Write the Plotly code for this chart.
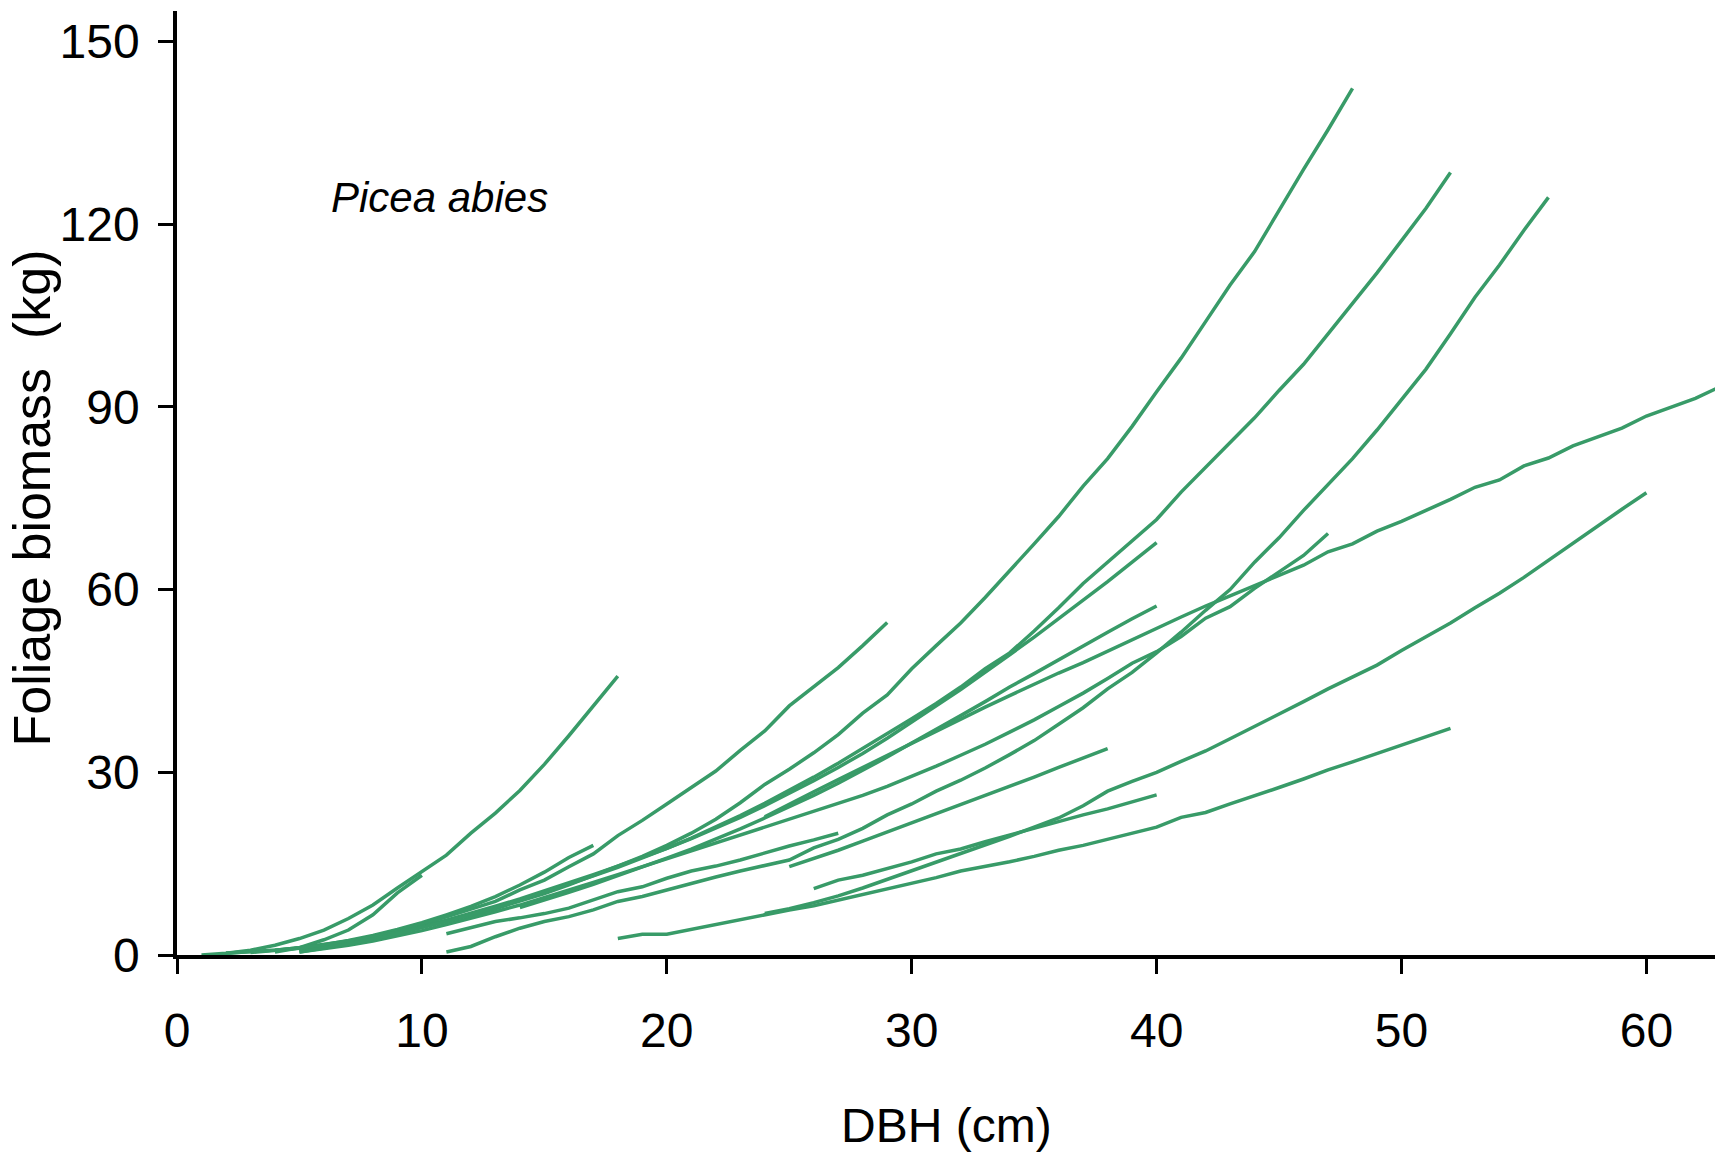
import plotly.graph_objects as go

# ---- data: foliage biomass (kg) by DBH (cm), one list per tree curve ----
dbh_c01 = list(range(1, 19))
kg_c01 = [0, 0.3, 0.8, 1.6, 2.7, 4.1, 6.0, 8.2, 11.0, 13.7, 16.4, 20.0, 23.3, 27.0, 31.3, 36.0, 41.0, 45.8]

dbh_c02 = list(range(4, 11))
kg_c02 = [0.5, 1.2, 2.5, 4.1, 6.6, 10.2, 13.1]

dbh_c03 = list(range(2, 18))
kg_c03 = [0.3, 0.5, 0.8, 1.2, 1.7, 2.4, 3.2, 4.2, 5.3, 6.6, 8.0, 9.6, 11.5, 13.6, 16.0, 18.0]

dbh_c04 = list(range(2, 30))
kg_c04 = [0.3, 0.5, 0.8, 1.2, 1.7, 2.3, 3.0, 3.9, 5.0, 6.3, 7.6, 8.8, 10.7, 12.3, 14.5, 16.6,
          19.6, 22.1, 24.8, 27.5, 30.2, 33.6, 36.8, 40.9, 44.0, 47.2, 50.8, 54.6]

dbh_c05 = list(range(11, 28))
kg_c05 = [3.5, 4.5, 5.5, 6.1, 6.8, 7.7, 9.0, 10.4, 11.2, 12.6, 13.8, 14.6, 15.6, 16.8, 17.9, 18.9, 20.0]

dbh_c06 = list(range(25, 39))
kg_c06 = [14.5, 15.8, 17.2, 18.7, 20.2, 21.7, 23.2, 24.6, 26.1, 27.6, 29.2, 30.8, 32.3, 33.9]

dbh_c07 = list(range(26, 41))
kg_c07 = [10.9, 12.3, 13.1, 14.2, 15.3, 16.6, 17.4, 18.6, 19.7, 20.8, 22.0, 23.0, 24.0, 25.1, 26.3]

dbh_c08 = list(range(5, 41))
kg_c08 = [0.6, 1.2, 1.9, 2.8, 3.7, 4.7, 5.7, 6.8, 8.0, 9.2, 10.5, 11.8, 13.2, 14.6, 16.0, 17.5,
          19.1, 20.8, 22.6, 24.5, 26.5, 28.6, 30.8, 33.1, 35.6, 38.2, 40.9, 43.6, 46.4, 49.3,
          52.2, 55.2, 58.2, 61.3, 64.5, 67.7]

dbh_c09 = list(range(14, 41))
kg_c09 = [7.8, 9.0, 10.3, 11.6, 13.0, 14.4, 15.9, 17.4, 19.0, 20.7, 22.5, 24.3, 26.2, 28.2,
          30.3, 32.5, 34.8, 37.0, 39.3, 41.6, 44.0, 46.2, 48.5, 50.7, 53.0, 55.2, 57.3]

dbh_c10 = list(range(5, 48))
kg_c10 = [0.5, 1.0, 1.6, 2.3, 3.1, 4.0, 5.0, 6.0, 7.1, 8.2, 9.4, 10.6, 11.9, 13.2, 14.5, 15.8,
          17.0, 18.3, 19.6, 20.9, 22.2, 23.5, 24.8, 26.2, 27.7, 29.3, 31.0, 32.8, 34.6, 36.6,
          38.6, 40.8, 43.0, 45.4, 47.9, 49.8, 52.3, 55.3, 57.2, 60.2, 62.9, 65.6, 69.2]

dbh_c11 = list(range(3, 49))
kg_c11 = [0.4, 0.7, 1.1, 1.6, 2.2, 2.9, 3.7, 4.6, 5.5, 6.5, 7.6, 8.8, 10.1, 11.5, 13.0, 14.6,
          16.2, 18.0, 20.0, 22.3, 25.0, 28.0, 30.5, 33.2, 36.2, 39.7, 42.7, 47.0, 50.8, 54.5,
          58.7, 63.0, 67.5, 72.0, 77.0, 81.5, 86.8, 92.5, 98.0, 104.0, 110.0, 115.5, 122.3,
          129.0, 135.5, 142.3]

dbh_c12 = list(range(5, 53))
kg_c12 = [0.5, 1.1, 1.8, 2.6, 3.5, 4.5, 5.5, 6.6, 7.8, 9.0, 10.3, 11.6, 13.0, 14.4, 15.9, 17.5,
          19.2, 21.0, 22.9, 24.9, 27.0, 29.2, 31.5, 33.9, 36.3, 38.8, 41.3, 44.0, 47.0, 49.6,
          53.2, 57.0, 61.0, 64.5, 68.0, 71.5, 76.0, 80.0, 84.0, 88.2, 92.7, 97.0, 102.0, 107.0,
          112.0, 117.3, 122.6, 128.5]

dbh_c13 = list(range(11, 57))
kg_c13 = [0.5, 1.4, 3.0, 4.4, 5.5, 6.3, 7.4, 8.8, 9.6, 10.7, 11.8, 12.8, 13.8, 14.7, 15.6, 17.6,
          19.0, 20.8, 23.0, 24.8, 26.9, 28.7, 30.7, 32.9, 35.2, 37.9, 40.6, 43.7, 46.4, 49.6,
          53.0, 56.6, 60.0, 64.5, 68.5, 73.0, 77.3, 81.5, 86.2, 91.2, 96.2, 102.0, 108.0,
          113.3, 119.0, 124.4]

dbh_c14 = list(range(24, 65))
kg_c14 = [22.7, 24.8, 26.8, 28.8, 30.8, 32.8, 34.8, 36.8, 38.8, 40.7, 42.6, 44.5, 46.3, 48.0,
          49.9, 51.8, 53.6, 55.5, 57.3, 59.0, 60.6, 62.4, 64.0, 66.2, 67.5, 69.6, 71.2, 73.0,
          74.8, 76.8, 78.0, 80.3, 81.6, 83.6, 85.0, 86.5, 88.5, 90.0, 91.4, 93.3, 95.0]

dbh_c15 = list(range(24, 61))
kg_c15 = [6.8, 7.6, 8.6, 9.7, 11.0, 12.4, 13.8, 15.2, 16.6, 18.0, 19.5, 21.0, 22.5, 24.5, 26.9,
          28.5, 30.0, 31.8, 33.5, 35.5, 37.5, 39.6, 41.6, 43.7, 45.6, 47.6, 50.0, 52.3, 54.5,
          57.0, 59.4, 62.0, 64.8, 67.6, 70.5, 73.2, 75.9]

dbh_c16 = list(range(18, 53))
kg_c16 = [2.7, 3.4, 3.4, 4.2, 5.0, 5.8, 6.7, 7.4, 8.1, 9.0, 9.9, 10.8, 11.7, 12.7, 13.8, 14.5,
          15.3, 16.2, 17.2, 18.0, 19.0, 19.9, 21.0, 22.6, 23.4, 24.8, 26.1, 27.5, 28.9, 30.4,
          31.7, 33.1, 34.5, 35.8, 37.2]

x_ticks = [0, 10, 20, 30, 40, 50, 60]
y_ticks = [0, 30, 60, 90, 120, 150]

curves = [
    (dbh_c01, kg_c01), (dbh_c02, kg_c02), (dbh_c03, kg_c03), (dbh_c04, kg_c04),
    (dbh_c05, kg_c05), (dbh_c06, kg_c06), (dbh_c07, kg_c07), (dbh_c08, kg_c08),
    (dbh_c09, kg_c09), (dbh_c10, kg_c10), (dbh_c11, kg_c11), (dbh_c12, kg_c12),
    (dbh_c13, kg_c13), (dbh_c14, kg_c14), (dbh_c15, kg_c15), (dbh_c16, kg_c16),
]

LINE = "rgb(56,155,104)"
FONT = "Liberation Sans Narrow, Arial Narrow, Liberation Sans, Arial, sans-serif"

fig = go.Figure()
for xs, ys in curves:
    fig.add_trace(go.Scatter(x=xs, y=ys, mode="lines", showlegend=False,
                             line=dict(color=LINE, width=3.5), hoverinfo="skip"))

axis_common = dict(showline=True, linecolor="black", linewidth=3.5, ticks="outside",
                   ticklen=15, tickwidth=3, tickcolor="black", showgrid=False,
                   zeroline=False, automargin=False,
                   tickfont=dict(family=FONT, size=48, color="black"))

fig.update_layout(
    width=1715, height=1157,
    margin=dict(l=177, r=0, t=11, b=202, autoexpand=False),
    paper_bgcolor="white", plot_bgcolor="white",
    xaxis=dict(range=[0, 62.8], tickvals=x_ticks, ticklabelstandoff=16, **axis_common),
    yaxis=dict(range=[0, 155], tickvals=y_ticks, ticklabelstandoff=9, **axis_common),
    annotations=[
        dict(text="DBH (cm)", xref="paper", yref="paper", x=0.5, y=-0.181,
             xanchor="center", yanchor="middle", showarrow=False,
             font=dict(family=FONT, size=48, color="black")),
        dict(text="Foliage biomass  (kg)", xref="paper", yref="paper", x=-0.094, y=0.484,
             xanchor="center", yanchor="middle", textangle=-90, showarrow=False,
             font=dict(family=FONT, size=52, color="black")),
        dict(text="<i>Picea abies</i>", xref="x", yref="y", x=6.2, y=124.4,
             xanchor="left", yanchor="middle", showarrow=False,
             font=dict(family=FONT, size=42, color="black")),
    ],
)

# remove the default 8 px page margin so the figure fills the window exactly
fig.write_html("out.html", config={"displayModeBar": False},
               post_script="document.body.style.margin='0';")
